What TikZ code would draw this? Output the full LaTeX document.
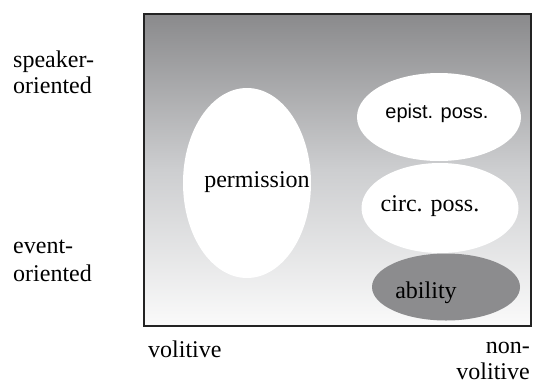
\documentclass[tikz,border=0pt]{standalone}
\usepackage{fontspec}
\setmainfont{Liberation Serif}
\newfontfamily\arialfont{Liberation Sans}
\usetikzlibrary{shapes.geometric}

\definecolor{shadetop}{RGB}{138,138,140}
\definecolor{shademid}{RGB}{205,206,208}
\definecolor{shadebot}{RGB}{250,250,250}
\definecolor{abilfill}{RGB}{140,140,142}
\definecolor{framecol}{RGB}{35,35,35}

\tikzset{
  blob/.style={ellipse, fill=white, draw=none, inner sep=0pt},
  serif/.style={font=\fontsize{24}{27}\selectfont, text=black, inner sep=0pt},
  sans/.style={font=\arialfont\fontsize{20}{23}\selectfont, text=black, inner sep=0pt},
  axislabel/.style={serif, align=left, anchor=base west},
}

\begin{document}
\begin{tikzpicture}[x=1pt, y=-1pt]
  \useasboundingbox (0,0) rectangle (535,391);

  % shaded field
  \shade[top color=shadetop, bottom color=shadebot, middle color=shademid]
    (144,14) rectangle (531,326);

  % regions
  \node[blob, minimum width=128pt, minimum height=190pt] (perm) at (247,183) {};
  \node[blob, minimum width=164pt, minimum height=88pt] (epist) at (439,117) {};
  \node[blob, minimum width=157pt, minimum height=90pt] (circ) at (440,208) {};
  \node[blob, fill=abilfill, minimum width=148pt, minimum height=67pt] (abil) at (446,287) {};

  % frame
  \draw[framecol, line width=1.6pt] (144,14) rectangle (531,326);

  % region labels
  \node[serif] (permtxt) at (257,182) {permission};
  \node[sans] (epitxt) at (437,113) {epist. poss.};
  \node[serif] (circtxt) at (430,206) {circ. poss.};
  \node[serif] (abiltxt) at (426,293) {ability};

  % axis labels
  \node[axislabel] (spk1) at (13,67) {speaker-};
  \node[axislabel] (spk2) at (13,93) {oriented};
  \node[axislabel] (evt1) at (13,253) {event-};
  \node[axislabel] (evt2) at (13,281) {oriented};
  \node[axislabel] (vol) at (148,357) {volitive};
  \node[serif, anchor=base east] (non1) at (530,353) {non-};
  \node[serif, anchor=base east] (non2) at (530,379) {volitive};
\end{tikzpicture}
\end{document}
